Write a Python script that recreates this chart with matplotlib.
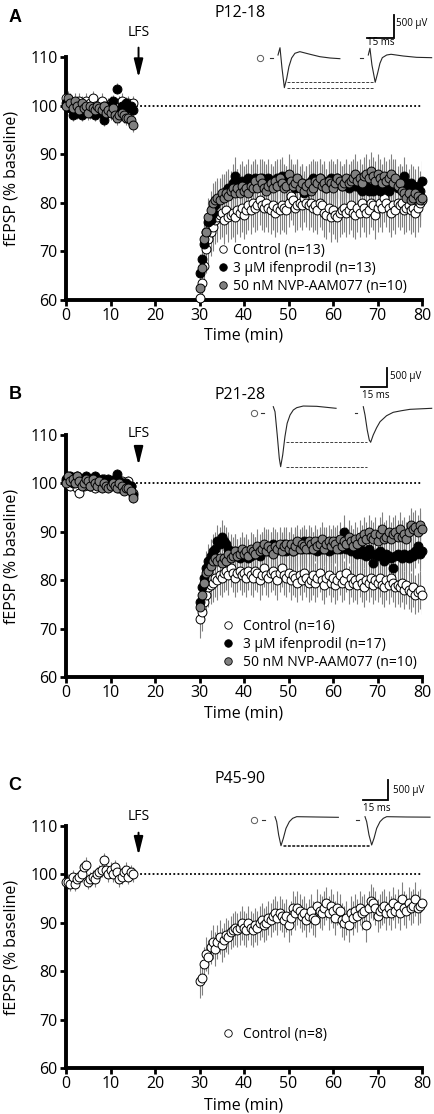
import numpy as np
import matplotlib
matplotlib.use("Agg")
import matplotlib.pyplot as plt
from matplotlib.lines import Line2D

W, H = 434, 1114
plt.rcParams['font.family'] = ['Open Sans', 'DejaVu Sans']

# time grid (min)
t_base = np.arange(31) * 0.5
t_post = 30 + np.arange(101) * 0.5
lfs_time = 16.3

# ---------------- panel A (P12-18) ----------------
a_ctrl_base = [101.5, 100.5, 101.0, 100.0, 99.5, 100.5, 101.0, 100.0, 99.5, 101.0,
               100.0, 100.5, 101.5, 100.0, 99.5, 100.0, 101.0, 100.0, 99.5, 100.0,
               100.5, 100.0, 99.5, 100.0, 100.5, 101.0, 100.0, 99.5, 100.5, 99.0,
               100.5]
a_ifen_base = [100.5, 101.0, 99.5, 98.0, 99.0, 98.5, 99.0, 98.0, 98.5, 99.5,
               99.0, 98.5, 99.0, 98.0, 99.5, 99.0, 98.5, 97.0, 99.0, 100.0,
               99.5, 101.0, 99.0, 103.5, 99.0, 100.0, 99.5, 100.5, 99.5, 100.0,
               99.0]
a_nvp_base = [100.0, 101.5, 100.5, 99.5, 101.0, 100.0, 99.0, 100.5, 99.5, 100.0,
              98.5, 100.0, 99.5, 99.0, 100.0, 99.5, 99.0, 100.0, 98.5, 99.0,
              98.5, 99.5, 98.0, 97.5, 98.0, 98.5, 98.0, 97.5, 97.5, 97.0,
              96.0]
a_ctrl_post = [60.5, 63.5, 67.0, 70.5, 72.5, 74.0, 75.0, 76.5, 77.0, 77.5,
               78.0, 76.5, 78.5, 77.0, 77.5, 78.0, 77.0, 78.5, 78.0, 79.0,
               77.5, 78.5, 79.5, 78.5, 80.0, 79.0, 79.5, 80.5, 79.5, 79.0,
               80.0, 79.0, 78.5, 79.5, 78.0, 79.0, 78.5, 79.5, 79.0, 78.5,
               80.0, 81.5, 80.5, 79.0, 79.5, 80.0, 79.5, 81.0, 80.0, 79.5,
               80.0, 79.0, 79.5, 78.5, 80.0, 79.5, 78.0, 77.5, 79.0, 77.0,
               78.5, 77.5, 77.0, 78.0, 78.5, 79.0, 78.0, 78.5, 79.5, 78.0,
               77.5, 79.0, 78.0, 80.0, 79.0, 78.0, 78.5, 80.0, 79.5, 77.5,
               79.0, 80.0, 79.0, 81.0, 80.0, 79.0, 78.0, 79.5, 78.5, 80.0,
               79.5, 80.0, 78.5, 79.0, 79.5, 78.5, 79.0, 78.0, 79.0, 80.0,
               80.5]
a_ifen_post = [65.5, 68.5, 71.5, 74.0, 76.0, 76.5, 78.0, 79.5, 80.5, 81.0,
               81.0, 82.0, 82.5, 83.0, 82.0, 84.0, 85.5, 83.0, 84.0, 84.5,
               83.5, 84.0, 85.0, 84.0, 84.5, 85.0, 84.0, 83.5, 85.0, 84.5,
               84.0, 85.0, 84.0, 83.5, 84.5, 85.0, 84.0, 85.5, 84.0, 83.5,
               84.0, 85.0, 84.0, 83.0, 84.5, 83.5, 84.0, 82.0, 83.5, 84.0,
               84.5, 85.0, 84.0, 84.5, 85.0, 84.0, 84.5, 83.0, 84.0, 85.0,
               84.5, 84.0, 85.0, 84.0, 83.5, 84.0, 84.5, 83.0, 84.0, 84.5,
               83.5, 84.0, 83.0, 82.5, 84.0, 83.5, 82.5, 83.0, 82.5, 83.0,
               83.5, 82.5, 83.0, 84.0, 83.0, 82.5, 84.5, 85.0, 83.5, 83.0,
               84.0, 83.5, 85.5, 84.0, 83.0, 84.0, 83.5, 83.0, 83.5, 82.5,
               84.5]
a_nvp_post = [62.5, 66.5, 72.5, 74.0, 77.0, 78.5, 80.0, 80.5, 81.0, 80.5,
              82.0, 81.0, 82.0, 81.5, 82.5, 83.0, 82.0, 83.0, 82.0, 83.5,
              82.5, 83.0, 82.0, 83.5, 83.0, 84.5, 83.0, 85.0, 84.0, 83.0,
              82.5, 83.5, 84.0, 83.0, 84.5, 83.5, 85.0, 84.0, 83.0, 83.5,
              86.0, 84.5, 83.5, 84.0, 85.0, 83.0, 84.0, 82.5, 83.5, 84.0,
              82.5, 83.0, 84.5, 84.0, 85.0, 83.5, 84.0, 83.0, 84.5, 84.0,
              83.0, 84.0, 85.0, 84.5, 83.5, 84.0, 85.0, 84.0, 84.5, 85.0,
              86.0, 84.5, 85.0, 84.0, 85.5, 86.0, 85.0, 86.5, 85.5, 84.5,
              86.0, 85.0, 84.0, 85.5, 84.5, 85.0, 86.0, 84.0, 85.0, 83.5,
              84.0, 82.5, 82.0, 81.0, 82.0, 80.5, 81.0, 82.0, 81.5, 80.5,
              81.0]

# ---------------- panel B (P21-28) ----------------
b_ctrl_base = [100.5, 100.0, 99.5, 101.0, 100.5, 99.0, 98.0, 101.0, 99.5, 100.0,
               100.5, 99.5, 100.0, 99.0, 100.5, 100.0, 99.5, 101.0, 100.0, 99.5,
               100.0, 100.5, 99.5, 100.0, 99.0, 100.5, 100.0, 99.5, 100.5, 99.5,
               98.0]
b_ifen_base = [101.0, 100.5, 101.5, 100.0, 101.0, 101.5, 100.5, 101.0, 100.0, 101.5,
               100.5, 101.0, 100.0, 101.5, 100.5, 100.0, 101.0, 100.5, 100.0, 101.0,
               100.5, 100.0, 101.0, 102.0, 100.5, 100.0, 99.5, 100.0, 99.0, 99.5,
               97.5]
b_nvp_base = [100.0, 101.5, 100.5, 101.0, 100.0, 101.5, 100.5, 99.5, 100.0, 101.0,
              100.5, 99.5, 101.0, 100.0, 99.5, 100.5, 99.0, 100.0, 99.5, 99.0,
              99.5, 100.0, 99.5, 99.0, 100.0, 99.5, 98.5, 99.0, 99.0, 98.5,
              97.0]
b_ctrl_post = [72.0, 73.5, 75.5, 77.0, 78.5, 79.0, 79.5, 80.5, 80.0, 81.0,
               80.5, 81.5, 82.0, 81.0, 82.5, 81.5, 80.5, 81.5, 82.0, 81.0,
               81.5, 80.5, 82.0, 81.0, 80.5, 82.0, 81.5, 80.0, 81.0, 82.5,
               81.0, 80.5, 81.5, 82.0, 81.0, 80.0, 81.5, 82.5, 81.0, 80.5,
               81.5, 80.0, 81.0, 80.5, 79.5, 81.0, 80.0, 81.5, 80.5, 79.5,
               80.0, 81.0, 79.5, 80.5, 81.5, 80.0, 79.0, 80.5, 81.0, 79.5,
               80.5, 79.0, 80.0, 81.0, 79.5, 80.0, 81.5, 79.0, 80.5, 79.5,
               80.0, 79.0, 80.5, 79.5, 78.5, 80.0, 79.5, 80.5, 79.0, 80.0,
               79.5, 80.5, 79.0, 78.5, 80.0, 79.0, 80.5, 79.5, 78.5, 79.0,
               78.5, 79.5, 78.0, 79.0, 78.0, 77.5, 78.5, 77.0, 77.5, 78.0,
               77.0]
b_ifen_post = [75.5, 78.5, 80.5, 82.5, 84.0, 85.0, 86.0, 86.5, 88.0, 87.5,
               89.0, 88.0, 87.5, 86.5, 86.0, 85.5, 86.0, 85.0, 84.5, 85.5,
               85.0, 85.5, 84.5, 85.0, 86.0, 85.5, 86.0, 85.0, 86.5, 86.0,
               87.0, 86.0, 86.5, 87.5, 86.0, 86.5, 87.0, 86.5, 87.5, 86.0,
               86.5, 87.0, 86.0, 87.5, 86.5, 87.0, 86.5, 88.0, 87.0, 86.5,
               87.0, 86.5, 87.5, 86.0, 87.0, 86.5, 87.5, 87.0, 86.0, 87.0,
               86.5, 87.0, 88.0, 86.5, 87.0, 90.0, 86.5, 87.0, 86.0, 87.0,
               86.0, 85.5, 86.5, 85.5, 86.0, 85.0, 86.5, 85.5, 83.5, 85.5,
               85.0, 86.0, 85.5, 84.0, 85.5, 85.0, 84.5, 82.5, 85.0, 85.5,
               85.0, 84.5, 85.5, 85.0, 84.5, 85.5, 85.0, 86.0, 87.0, 85.5,
               86.0]
b_nvp_post = [74.5, 77.0, 79.5, 81.5, 82.0, 83.0, 84.0, 84.5, 84.0, 84.5,
              83.5, 84.5, 84.0, 85.5, 84.5, 85.0, 86.0, 85.0, 85.5, 86.5,
              85.5, 86.0, 85.0, 86.5, 86.0, 85.5, 87.0, 86.0, 86.5, 87.5,
              86.0, 87.0, 86.5, 85.5, 87.0, 86.5, 87.5, 86.0, 87.0, 87.5,
              86.5, 87.5, 86.0, 87.0, 88.0, 86.5, 87.5, 87.0, 86.5, 88.0,
              87.5, 86.5, 88.0, 87.0, 87.5, 88.5, 86.5, 87.5, 88.0, 87.0,
              88.0, 87.5, 86.5, 88.5, 87.0, 88.0, 87.5, 89.0, 88.0, 87.0,
              88.5, 87.5, 89.0, 88.0, 89.5, 88.5, 90.0, 89.0, 88.5, 89.5,
              88.0, 89.5, 90.5, 88.5, 89.0, 90.0, 88.5, 89.5, 90.0, 89.0,
              90.5, 89.0, 89.5, 88.5, 90.0, 91.5, 90.5, 91.0, 90.0, 91.5,
              90.5]

# ---------------- panel C (P45-90) ----------------
c_ctrl_base = [98.5, 98.5, 98.0, 99.5, 98.0, 99.0, 99.5, 100.0, 101.5, 102.0,
               98.5, 99.0, 99.5, 99.0, 100.0, 100.5, 101.0, 103.0, 101.0, 100.0,
               101.0, 100.0, 101.5, 100.5, 99.0, 99.5, 100.5, 101.0, 99.5, 100.5,
               100.0]
c_ctrl_post = [78.0, 78.5, 81.5, 83.5, 83.0, 85.0, 86.0, 84.5, 86.0, 87.0,
               85.5, 86.5, 87.5, 87.0, 88.0, 88.5, 89.0, 88.5, 89.0, 90.0,
               89.0, 88.5, 90.0, 89.0, 88.5, 89.5, 89.0, 90.0, 90.5, 89.5,
               90.0, 91.0, 90.5, 91.5, 92.0, 91.0, 92.0, 91.5, 90.5, 91.5,
               89.5, 91.0, 93.0, 92.0, 93.0, 92.5, 91.5, 92.0, 90.5, 91.5,
               92.5, 91.0, 90.5, 93.5, 92.5, 92.0, 93.0, 94.0, 92.0, 93.5,
               92.5, 91.0, 93.0, 92.5, 90.5, 90.0, 91.0, 89.5, 92.0, 91.0,
               92.5, 91.5, 93.0, 92.0, 92.5, 89.5, 93.0, 94.5, 94.0, 93.0,
               91.5, 92.5, 93.0, 93.5, 92.0, 93.0, 92.0, 94.0, 92.5, 93.5,
               92.0, 95.0, 93.0, 92.5, 94.0, 93.0, 93.5, 95.0, 93.0, 93.5,
               94.0]

# s.e.m. (baseline, after LFS)
a_err = {'ctrl': (1.5, 5.0), 'ifen': (1.2, 4.0), 'nvp': (1.5, 4.0)}
b_err = {'ctrl': (1.0, 4.0), 'ifen': (1.0, 3.5), 'nvp': (1.0, 3.5)}
c_err = {'ctrl': (1.5, 3.5)}

# example traces (ms, uV): before / after LFS
a_tr1_t = [0, 1.1, 2.2, 3.5, 4.8, 6.0, 7.5, 9.3, 12, 17.6, 23, 28.6, 34]
a_tr1_v = [66, 227, -227, -655, -449, -191, 0, 104, 140, 82, 29, 0, -15]
a_tr2_t = [0, 0.9, 2.0, 3.8, 5.1, 6.4, 7.7, 10.1, 12.5, 19.2, 26.5, 34.8]
a_tr2_v = [66, 214, -155, -536, -338, -117, 7, 66, 82, 44, 15, 7]
b_tr1_t = [0, 1.0, 2.3, 3.5, 4.3, 5.5, 6.8, 8.1, 9.8, 11.7, 13.7, 17.5, 25.4, 36.7]
b_tr1_v = [172, 35, -600, -1235, -1463, -1144, -646, -281, -54, 82, 145, 190, 182, 128]
b_tr2_t = [0, 1.0, 2.3, 3.5, 4.3, 5.8, 7.8, 9.8, 13.6, 17.5, 22.4, 27.3, 40]
b_tr2_v = [172, -54, -463, -736, -798, -600, -400, -237, -74, 19, 63, 100, 128]
c_tr1_t = [0, 1.0, 2.2, 3.6, 5.0, 6.6, 8.6, 10.6, 13, 25, 38]
c_tr1_v = [83, -42, -375, -643, -458, -208, -42, 42, 83, 75, 67]
c_tr2_t = [0, 1.0, 2.4, 4.0, 5.4, 7.0, 9.0, 11, 13, 25, 39]
c_tr2_v = [83, -42, -375, -625, -458, -208, -42, 42, 83, 75, 71]

fig = plt.figure(figsize=(W / 100, H / 100), dpi=100)


def fx(x):
    return x / W


def fy(y):
    return 1 - y / H


def main_axes(top, bottom):
    ax = fig.add_axes([fx(66), fy(bottom), (422 - 66) / W, (bottom - top) / H])
    ax.set_xlim(0, 80)
    ax.set_ylim(60, 110)
    ax.set_xticks(range(0, 81, 10))
    ax.set_yticks(range(60, 111, 10))
    for s in ['top', 'right']:
        ax.spines[s].set_visible(False)
    for s in ['left', 'bottom']:
        ax.spines[s].set_linewidth(2.8)
    ax.tick_params(direction='out', length=4, width=2, labelsize=11.5, pad=2)
    ax.patch.set_alpha(0)
    return ax


def series(ax, yb, yp, err, fc, z):
    t = np.concatenate([t_base, t_post])
    y = np.concatenate([yb, yp])
    e = np.concatenate([np.full(len(yb), err[0]), np.full(len(yp), err[1])])
    ax.errorbar(t, y, yerr=e, fmt='none', ecolor='0.5', elinewidth=0.8, zorder=1)
    ax.plot(t, y, 'o', ms=6.4, mfc=fc, mec='k', mew=0.7, zorder=z, clip_on=False)


def lfs(ax, y_text, y_top, y_tip):
    ax.annotate('', xy=(lfs_time, y_tip), xytext=(lfs_time, y_top),
                arrowprops=dict(arrowstyle='-|>,head_length=1.0,head_width=0.25',
                                color='k', lw=1.4, mutation_scale=11),
                annotation_clip=False)
    ax.text(lfs_time, y_text, 'LFS', ha='center', va='center', fontsize=10, clip_on=False)
    ax.hlines(100, 15.8, 80, colors='k', linestyles=(0, (1, 1.3)), lw=1.3, zorder=0)


def legend(ax, labels, colors, x, y, pad):
    hs = [Line2D([], [], ls='none', marker='o', ms=5.4, mfc=c, mec='k', mew=0.6) for c in colors]
    ax.legend(hs, labels, loc='upper left', bbox_to_anchor=(fx(x), fy(y)),
              bbox_transform=fig.transFigure, frameon=False, borderpad=0,
              borderaxespad=0, handlelength=1.0, handletextpad=pad,
              labelspacing=0.2, fontsize=10)


def inset(top, bottom, base, ppm, ppu, lay, t1, v1, t2, v2):
    l, r = 245, 434
    ax = fig.add_axes([fx(l), fy(bottom), (r - l) / W, (bottom - top) / H])
    ax.set_xlim(0, (r - l) / ppm)
    ax.set_ylim(-(bottom - base) / ppu, (base - top) / ppu)
    ax.axis('off')
    ms = lambda px: (px - l) / ppm
    uv = lambda py: (base - py) / ppu
    ax.plot(ms(lay['circle']), 0, 'o', ms=4.5, mfc='white', mec='0.35', mew=0.7)
    for a, b in lay['dashes']:
        ax.plot([ms(a), ms(b)], [0, 0], color='0.2', lw=0.8)
    ax.plot(ms(lay['start1']) + np.array(t1), v1, color='0.15', lw=0.8)
    ax.plot(ms(lay['start2']) + np.array(t2), v2, color='0.15', lw=0.8)
    ax.hlines([min(v1), min(v2)], ms(lay['guide'][0]), ms(lay['guide'][1]),
              colors='0.25', linestyles=(0, (3, 1.5)), lw=0.7)
    bx, by = ms(lay['bar'][0]), uv(lay['bar'][1])
    ax.plot([bx - 15, bx, bx], [by, by, by + 500], color='k', lw=1.3,
            solid_joinstyle='miter', clip_on=False)
    fig.text(fx(lay['uv_txt'][0]), fy(lay['uv_txt'][1]), '500 µV', fontsize=7, va='center')
    fig.text(fx(lay['ms_txt'][0]), fy(lay['ms_txt'][1]), '15 ms', fontsize=7, va='center')


ctrl_c, ifen_c, nvp_c = 'white', 'black', '#808080'

# ---- A ----
axA = main_axes(57, 300)
series(axA, a_ctrl_base, a_ctrl_post, a_err['ctrl'], ctrl_c, 3)
series(axA, a_ifen_base, a_ifen_post, a_err['ifen'], ifen_c, 4)
series(axA, a_nvp_base, a_nvp_post, a_err['nvp'], nvp_c, 5)
lfs(axA, 115.0, 112.5, 105.2)
legend(axA, ['Control (n=13)', '3 µM ifenprodil (n=13)', '50 nM NVP-AAM077 (n=10)'],
       [ctrl_c, ifen_c, nvp_c], 216, 243, 0.25)
inset(5, 95, 58, 1.82, 0.0453,
      dict(circle=260, dashes=[(270, 273), (360, 363)], start1=278, start2=368.3,
           guide=(287.3, 373.5), bar=(394, 37.7), uv_txt=(396, 23.3), ms_txt=(367, 42.7)),
      a_tr1_t, a_tr1_v, a_tr2_t, a_tr2_v)

# ---- B ----
axB = main_axes(435, 677)
series(axB, b_ctrl_base, b_ctrl_post, b_err['ctrl'], ctrl_c, 3)
series(axB, b_ifen_base, b_ifen_post, b_err['ifen'], ifen_c, 4)
series(axB, b_nvp_base, b_nvp_post, b_err['nvp'], nvp_c, 5)
lfs(axB, 110.4, 107.9, 103.2)
legend(axB, ['Control (n=16)', '3 µM ifenprodil (n=17)', '50 nM NVP-AAM077 (n=10)'],
       [ctrl_c, ifen_c, nvp_c], 221, 619, 0.55)
inset(360, 475, 413, 1.71, 0.0367,
      dict(circle=254, dashes=[(261, 264), (355, 357)], start1=273.3, start2=363.3,
           guide=(286, 366.7), bar=(386.7, 386.7), uv_txt=(390, 376.7), ms_txt=(361.7, 396)),
      b_tr1_t, b_tr1_v, b_tr2_t, b_tr2_v)

# ---- C ----
axC = main_axes(826, 1068)
series(axC, c_ctrl_base, c_ctrl_post, c_err['ctrl'], ctrl_c, 3)
lfs(axC, 111.9, 109.2, 103.4)
legend(axC, ['Control (n=8)'], [ctrl_c], 221, 1027, 0.55)
inset(770, 855, 820, 1.667, 0.04,
      dict(circle=254, dashes=[(262, 265), (356, 359)], start1=275, start2=365,
           guide=(283.3, 370), bar=(388.3, 800), uv_txt=(392.7, 790), ms_txt=(363, 808.3)),
      c_tr1_t, c_tr1_v, c_tr2_t, c_tr2_v)

# titles, letters, axis labels
for letter, title, ly, ty, lab_y, xl_y in [('A', 'P12-18', 17, 13, 178, 335),
                                            ('B', 'P21-28', 395, 395, 556, 713),
                                            ('C', 'P45-90', 785, 779, 947, 1105)]:
    fig.text(fx(15), fy(ly), letter, fontsize=13, fontweight='bold',
             family='Liberation Sans', ha='center', va='center')
    fig.text(fx(240), fy(ty), title, fontsize=11.5, ha='center', va='center')
    fig.text(fx(12), fy(lab_y), 'fEPSP (% baseline)', fontsize=11.5, rotation=90,
             ha='center', va='center')
    fig.text(fx(244), fy(xl_y), 'Time (min)', fontsize=11.5, ha='center', va='center')

fig.savefig('out.png', dpi=100)
